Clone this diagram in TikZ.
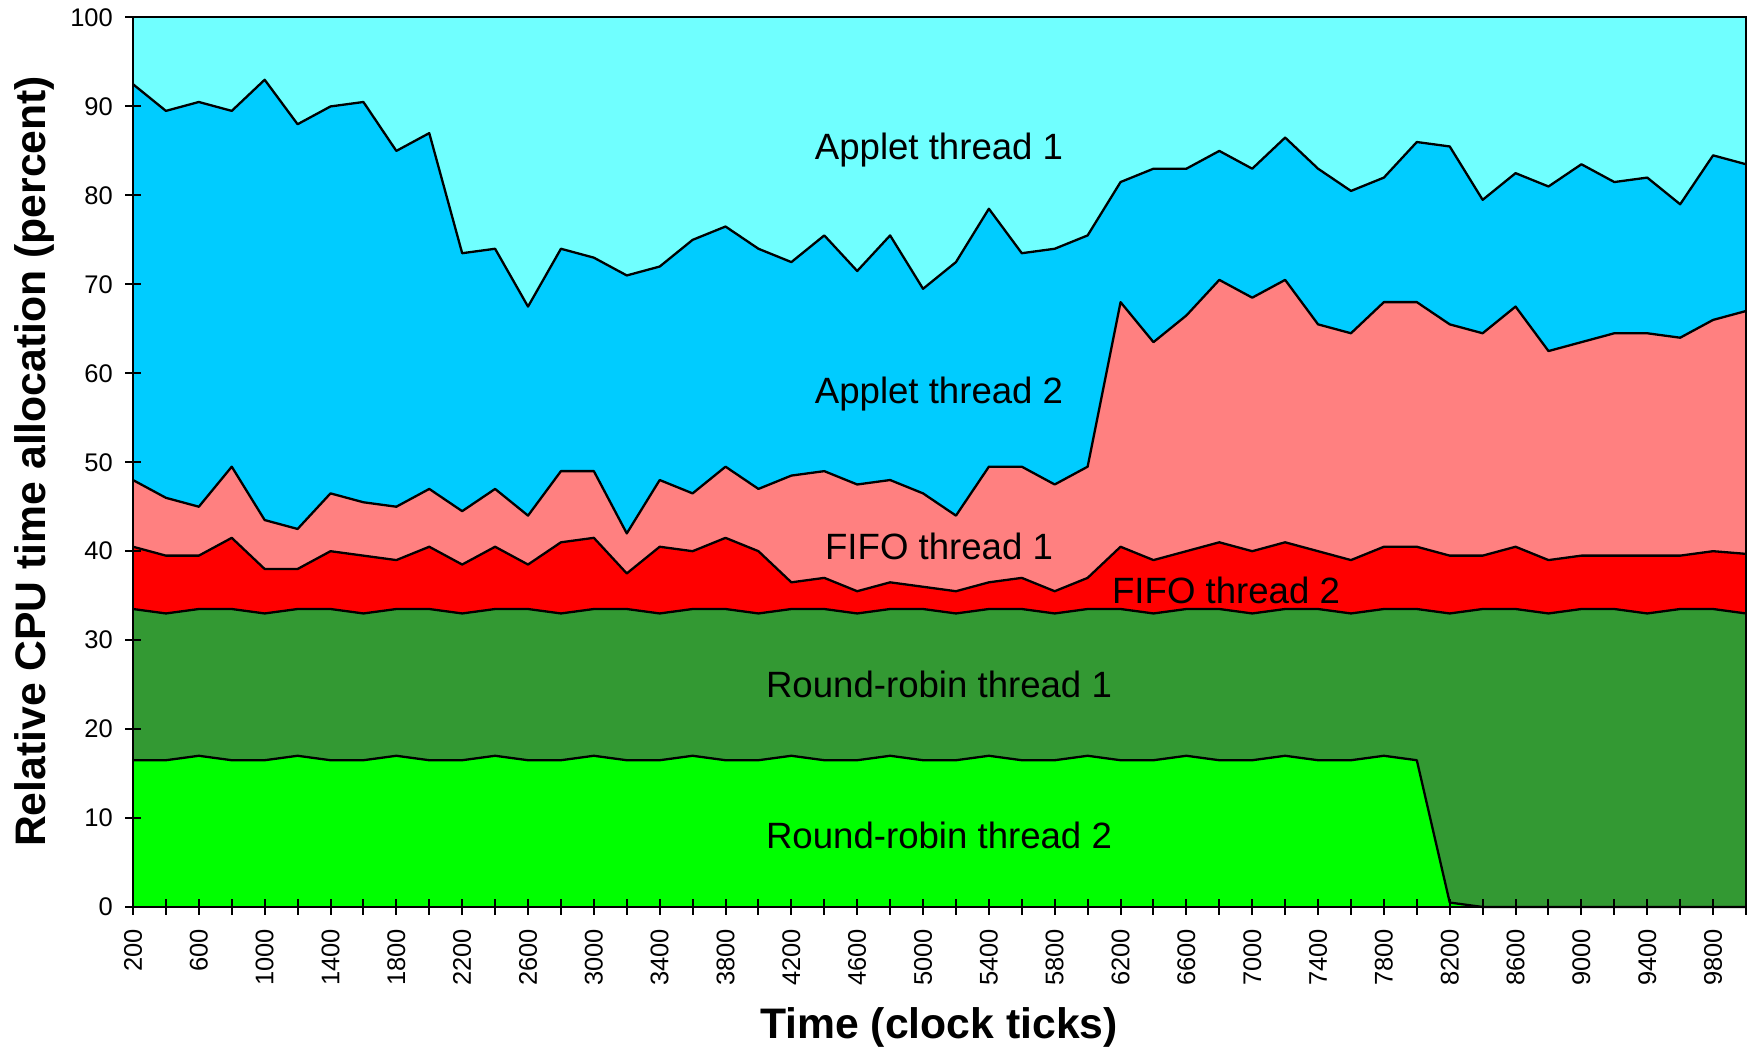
\documentclass[tikz,border=0pt]{standalone}
\usepackage{fontspec}
\setmainfont{Liberation Sans}
\definecolor{appAcol}{HTML}{70FFFF}
\definecolor{appBcol}{HTML}{00CCFF}
\definecolor{fifoAcol}{HTML}{FF8080}
\definecolor{fifoBcol}{HTML}{FF0000}
\definecolor{rrAcol}{HTML}{339933}
\definecolor{rrBcol}{HTML}{00FF00}
% cumulative upper edges of the stacked layers, one value per 200 ticks (200..10000)
\def\topAppB{92.5,89.5,90.5,89.5,93,88,90,90.5,85,87,73.5,74,67.5,74,73,71,72,75,76.5,74,72.5,75.5,71.5,75.5,69.5,72.5,78.5,73.5,74,75.5,81.5,83,83,85,83,86.5,83,80.5,82,86,85.5,79.5,82.5,81,83.5,81.5,82,79,84.5,83.5}
\def\topFifoA{48,46,45,49.5,43.5,42.5,46.5,45.5,45,47,44.5,47,44,49,49,42,48,46.5,49.5,47,48.5,49,47.5,48,46.5,44,49.5,49.5,47.5,49.5,68,63.5,66.5,70.5,68.5,70.5,65.5,64.5,68,68,65.5,64.5,67.5,62.5,63.5,64.5,64.5,64,66,67}
\def\topFifoB{40.5,39.5,39.5,41.5,38,38,40,39.5,39,40.5,38.5,40.5,38.5,41,41.5,37.5,40.5,40,41.5,40,36.5,37,35.5,36.5,36,35.5,36.5,37,35.5,37,40.5,39,40,41,40,41,40,39,40.5,40.5,39.5,39.5,40.5,39,39.5,39.5,39.5,39.5,40,39.7}
\def\topRrA{33.5,33,33.5,33.5,33,33.5,33.5,33,33.5,33.5,33,33.5,33.5,33,33.5,33.5,33,33.5,33.5,33,33.5,33.5,33,33.5,33.5,33,33.5,33.5,33,33.5,33.5,33,33.5,33.5,33,33.5,33.5,33,33.5,33.5,33,33.5,33.5,33,33.5,33.5,33,33.5,33.5,33}
\def\topRrB{16.5,16.5,17,16.5,16.5,17,16.5,16.5,17,16.5,16.5,17,16.5,16.5,17,16.5,16.5,17,16.5,16.5,17,16.5,16.5,17,16.5,16.5,17,16.5,16.5,17,16.5,16.5,17,16.5,16.5,17,16.5,16.5,17,16.5,0.5,0,0,0,0,0,0,0,0,0}
\def\dx{32.918}
\def\dy{8.895}
\tikzset{
  boundary/.style={draw=black,line width=2.3pt,line join=round},
  frameline/.style={draw=black,line width=2pt},
  ticklbl/.style={font=\fontsize{25.5}{28}\selectfont,inner sep=0pt},
  arealbl/.style={font=\fontsize{36.6}{40}\selectfont,inner sep=0pt,anchor=base},
  axistitle/.style={font=\fontsize{42.7}{48}\selectfont\bfseries,inner sep=0pt,anchor=base}
}
\begin{document}
\begin{tikzpicture}[x=1pt,y=1pt]
\useasboundingbox[fill=white] (0,0) rectangle (1752,1049);
\begin{scope}[shift={(133,142)}]
  % named points of every layer edge
  \foreach \v [count=\i from 0] in \topAppB {\coordinate (b\i) at (\i*\dx,\v*\dy);}
  \foreach \v [count=\i from 0] in \topFifoA {\coordinate (s\i) at (\i*\dx,\v*\dy);}
  \foreach \v [count=\i from 0] in \topFifoB {\coordinate (r\i) at (\i*\dx,\v*\dy);}
  \foreach \v [count=\i from 0] in \topRrA {\coordinate (d\i) at (\i*\dx,\v*\dy);}
  \foreach \v [count=\i from 0] in \topRrB {\coordinate (g\i) at (\i*\dx,\v*\dy);}
  \coordinate (o) at (0,0);
  \coordinate (xe) at (49*\dx,0);
  \coordinate (te) at (49*\dx,100*\dy);
  % stacked areas, top layer first
  \fill[appAcol] (o) rectangle (te);
  \foreach \p/\c in {b/appBcol,s/fifoAcol,r/fifoBcol,d/rrAcol,g/rrBcol}{
    \fill[\c] (o) -- (\p0) \foreach \i in {1,...,49}{ -- (\p\i)} -- (xe) -- cycle;
  }
  % layer edges
  \foreach \p in {b,s,r,d,g}{
    \draw[boundary] (\p0) \foreach \i in {1,...,49}{ -- (\p\i)};
  }
  % plot frame
  \draw[frameline] (o) rectangle (te);
  % y axis ticks and labels
  \foreach \k in {0,10,...,100}{
    \draw[frameline] (-8,\k*\dy) -- (8,\k*\dy);
    \node[ticklbl,anchor=east] (yl\k) at (-20,\k*\dy) {\k};
  }
  % x axis ticks and labels
  \foreach \i in {0,...,49}{
    \draw[frameline] (\i*\dx,-8) -- (\i*\dx,8);
  }
  \foreach \i in {0,2,...,48}{
    \pgfmathtruncatemacro\t{200+200*\i}
    \node[ticklbl,rotate=90,anchor=east] (xl\i) at (\i*\dx,-22) {\t};
  }
\end{scope}
% layer names
\node[arealbl] (lapA) at (939,889) {Applet thread 1};
\node[arealbl] (lapB) at (939,645.5) {Applet thread 2};
\node[arealbl] (lfiA) at (939,489) {FIFO thread 1};
\node[arealbl] (lfiB) at (1226,445.5) {FIFO thread 2};
\node[arealbl] (lrrA) at (939,351.5) {Round-robin thread 1};
\node[arealbl] (lrrB) at (939,200.5) {Round-robin thread 2};
% axis titles
\node[axistitle] (xtitle) at (939,11) {Time (clock ticks)};
\node[axistitle,rotate=90] (ytitle) at (45.5,587.6) {Relative CPU time allocation (percent)};
\end{tikzpicture}
\end{document}
